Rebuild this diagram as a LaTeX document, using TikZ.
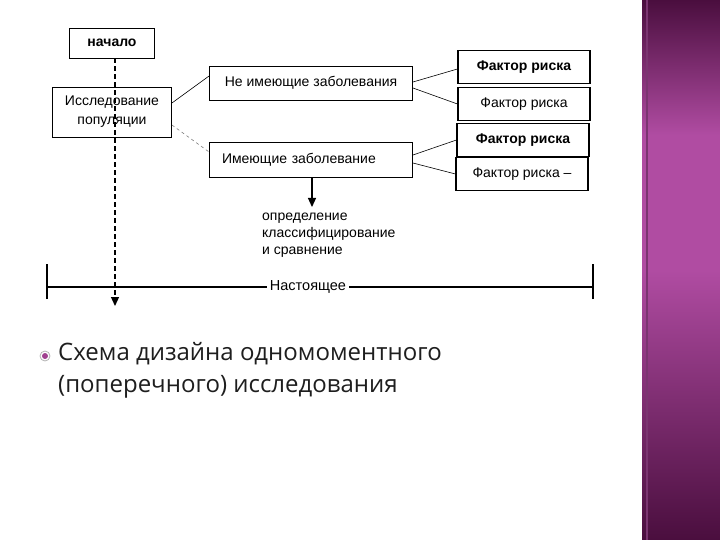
\documentclass[tikz,border=0pt]{standalone}
\usepackage{fontspec}
\setmainfont{Liberation Sans}
\newfontfamily\slidefont{Open Sans}
\usetikzlibrary{positioning, arrows.meta}
\definecolor{barDark}{HTML}{4A0E3E}
\definecolor{barLight}{HTML}{B04CA2}
\definecolor{slideText}{HTML}{1E1E1E}
\definecolor{bulletPurple}{HTML}{A0408F}

\begin{document}
\begin{tikzpicture}[x=1pt, y=-1pt,
		box/.style={draw, line width=0.9pt, minimum height=33pt, inner sep=2pt, font=\fontsize{14}{16}\selectfont},
		riskbox/.style={box, minimum width=132pt, line width=1.1pt},
		link/.style={line width=0.6pt},
		timeline/.style={line width=1.2pt}]
		\useasboundingbox (0,0) rectangle (720,540);
		\fill[white] (0,0) rectangle (720,540);
		% side bar
		\shade[top color=barDark, bottom color=barLight, middle color=barLight] (642,0) rectangle (720,270);
		\shade[top color=barLight, bottom color=barDark] (642,270) rectangle (720,540);
		\draw[barLight!70!black, line width=1.5pt] (647,0) -- (647,540);
		
		\node[box, minimum width=85pt, minimum height=30pt, font=\fontsize{14}{16}\selectfont\bfseries] (start) at (112,43) {начало};
		\node[box, minimum width=119pt, minimum height=50pt, align=center, font=\fontsize{14}{19}\selectfont] (pop) at (112,112) {Исследование\\популяции};
		\node[box, minimum width=203pt, minimum height=34pt] (healthy) at (311,83) {Не имеющие заболевания};
		\node[box, minimum width=203pt, minimum height=35pt, text width=190pt] (ill) at (311,160) {\hspace*{6pt}Имеющие заболевание};
		\node[riskbox, font=\fontsize{14}{16}\selectfont\bfseries] (r1) at (524,67) {Фактор риска};
		\node[riskbox] (r2) at (524,104) {Фактор риска};
		\node[riskbox, font=\fontsize{14}{16}\selectfont\bfseries] (r3) at (523,140) {Фактор риска};
		\node[riskbox] (r4) at (522,174) {Фактор риска --};
		
		\path[link]
		(pop.east |- 0,103) edge (healthy.west |- 0,76)
		(healthy.east |- 0,82) edge (r1.west |- 0,69)
		(healthy.east |- 0,88) edge (r2.west)
		(ill.east |- 0,155) edge (r3.west)
		(ill.east |- 0,163) edge (r4.west);
		\draw[link, dashed, gray] (pop.east |- 0,125) -- (ill.west |- 0,152);
		
		\node[align=left, anchor=north west, inner sep=0pt, font=\fontsize{14}{17}\selectfont] (result) at (262,213) {определение\\классифицирование\\и сравнение};
		\coordinate (illdown) at (312,207);
		\draw[line width=1.2pt, -{Triangle[length=9pt, width=8pt]}] (ill.south -| illdown) -- (illdown);
		
		% time axis
		\coordinate (tl) at (47,287);
		\coordinate (tr) at (593,287);
		\draw[timeline] (tl) -- (tr);
		\draw[timeline] ([yshift=-12pt]tl) -- ([yshift=23pt]tl);
		\draw[timeline] ([yshift=-12pt]tr) -- ([yshift=23pt]tr);
		\node[fill=white, inner sep=3pt, font=\fontsize{14.5}{16}\selectfont] (now) at (308,287) {Настоящее};
		
		\coordinate (popend) at (115,306);
		\draw[line width=1.3pt, dash pattern=on 5pt off 3pt, -{Triangle[length=9pt, width=8pt]}] (start.south -| popend) -- (popend);
		
		% caption
		\node[circle, draw=gray!60, line width=0.8pt, fill=white, minimum size=10pt, inner sep=0pt] (bullet) at (45,356) {};
		\fill[bulletPurple] (bullet) circle (3pt);
		\node[anchor=north west, align=left, inner sep=0pt, text=slideText, font=\slidefont\fontsize{24}{32}\selectfont] (caption) at (58,342) {Схема дизайна одномоментного\\(поперечного) исследования};
	\end{tikzpicture}
\end{document}
